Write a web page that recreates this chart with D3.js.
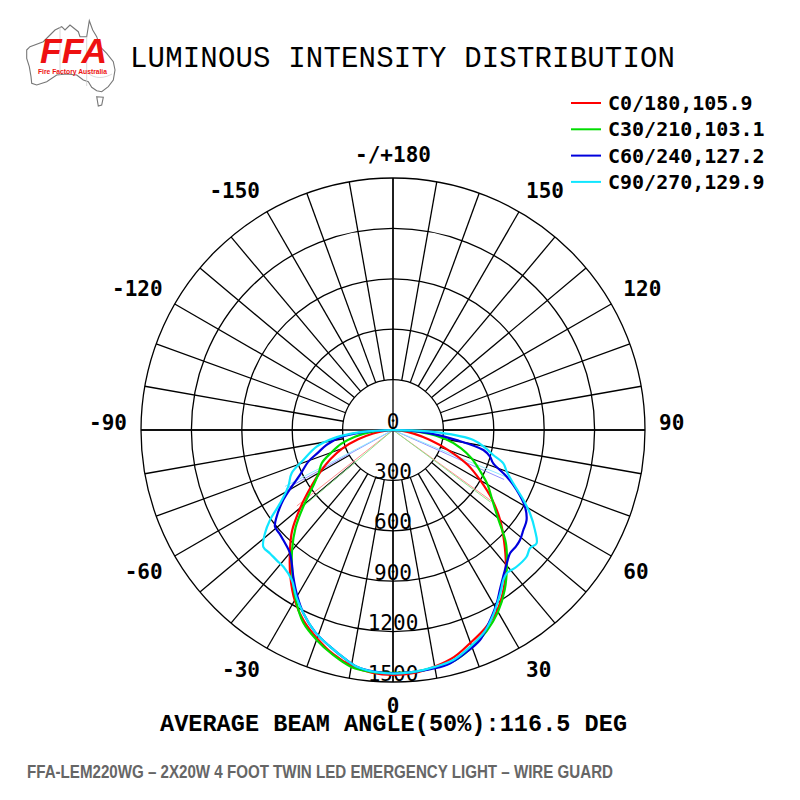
<!DOCTYPE html>
<html>
<head>
<meta charset="utf-8">
<script src="https://cdn.jsdelivr.net/npm/d3@7"></script>
<style>
  body { margin: 0; background: #fff; }
</style>
</head>
<body>
<svg id="chart" width="800" height="800"></svg>
<script>
// C-plane names shown in the legend
const planeNames = ['C0/180,105.9', 'C30/210,103.1', 'C60/240,127.2', 'C90/270,129.9'];
const planeColors = ['#ff0000', '#00dd00', '#0000dd', '#10e6ff'];
const beamColors = ['#ff8f8f', '#8fe68f', '#8f8fff', '#8fe8ff'];

// [gamma, cd] — negative gamma is the opposite half plane (C180, C210 ...)
const c0 = [[-90,0],[-85,45],[-80,120],[-75,215],[-70,320],[-65,410],[-60,500],[-55,600],[-50,720],[-45,850],[-40,955],[-35,1065],[-30,1170],[-25,1255],[-20,1320],[-15,1380],[-10,1425],[-5,1450],[0,1458],
  [5,1452],[10,1430],[15,1400],[20,1348],[25,1300],[30,1240],[35,1150],[40,1045],[45,935],[50,832],[55,720],[60,600],[65,490],[70,350],[75,225],[80,125],[85,50],[90,0]];
const c30 = [[-90,0],[-85,130],[-80,230],[-75,320],[-70,390],[-65,468],[-60,510],[-55,580],[-50,690],[-45,820],[-40,935],[-35,1045],[-30,1160],[-25,1265],[-20,1330],[-15,1385],[-10,1432],[-5,1445],[0,1445],
  [5,1445],[10,1435],[15,1420],[20,1375],[25,1320],[30,1250],[35,1160],[40,1055],[45,950],[50,815],[55,720],[60,650],[65,570],[70,500],[75,420],[80,320],[85,180],[90,0]];
const c60 = [[-90,0],[-86,180],[-82,320],[-77.3,405],[-73,470],[-69.5,538],[-64.2,615],[-60.8,691],[-57.5,774],[-53.3,864],[-50.7,908],[-47.5,915],[-44.9,925],[-42,940],[-39.9,956],[-37,1000],[-34.2,1056],[-30,1140],[-26,1215],[-21,1290],[-16.2,1343],[-12,1390],[-8.7,1425],[-4,1443],[0,1448],
  [5,1445],[10,1440],[13.7,1430],[18,1395],[22.5,1353],[26,1290],[30.9,1202],[34,1140],[36.9,1092],[40.5,1043],[43.5,1012],[46.5,1008],[49.1,1000],[52.5,978],[56,959],[59.8,909],[64.1,818],[67.7,732],[71.6,629],[74.6,599],[77.5,551],[81,384],[85,215],[88,90],[90,0]];
const c90 = [[-90,0],[-87,150],[-85,250],[-82,359],[-77.7,465],[-71.5,563],[-66.9,656],[-61.6,709],[-57,802],[-53.8,907],[-51.1,979],[-48,1039],[-44.9,1037],[-41.5,1040],[-38.7,1043],[-34,1077],[-30,1150],[-26,1215],[-21,1290],[-16.2,1343],[-12,1390],[-8.7,1425],[-4,1445],[0,1450],
  [5,1445],[10,1432],[14.7,1415],[19,1375],[24,1324],[28,1260],[31.8,1190],[34,1150],[36.3,1109],[38.4,1089],[42.1,1097],[46.5,1096],[49.2,1077],[51.7,1089],[54.8,1034],[58.7,954],[61.8,881],[66.1,783],[69.9,721],[73.2,686],[76,615],[79,560],[82.9,482],[86.7,280],[89,100],[90,0]];
const planes = [c0, c30, c60, c90];

// 50% beam half angles per plane [left, right]
const halfAngles = [[-51.7, 54.2], [-49.6, 53.5], [-61.2, 66.0], [-62.4, 67.5]];

const ringValues = [300, 600, 900, 1200, 1500];
const radialLabels = [0, 300, 600, 900, 1200, 1500];
const angleTicks = [0, 30, 60, 90, 120, 150, 180, -30, -60, -90, -120, -150];

const cx = 393, cy = 430;
const svg = d3.select('#chart');

// scales: gamma 0 points down, 90 to the right
const rad = d3.scaleLinear().domain([0, 1500]).range([0, 252]);
const ang = d3.scaleLinear().domain([0, 180]).range([Math.PI, 0]);
const px = (g, r) => cx + r * Math.sin(ang(g));
const py = (g, r) => cy - r * Math.cos(ang(g));

// ---- logo
const logo = svg.append('g');
const aus = [[26.7,50],[30,46.7],[43.3,41.7],[50,35],[55,30],[61.7,26.7],[65,30],[70,25],[78.3,31.7],[80,36.7],[86.7,36.7],[89.3,20.7],[92.7,30],[96.7,36.7],[100,46.7],[106.7,53.3],[113.3,61.7],[115,70],[113.3,80],[108.3,86.7],[101.7,91.7],[96.7,90.7],[91.7,87.3],[88.3,81.7],[83.3,80],[76.7,75],[66.7,74],[56.7,75],[46.7,81.7],[36.7,85],[31.7,83.3],[31,76.7],[29.3,66.7],[26.7,58.3]];
const tas = [[96.7,96.7],[103.3,97.3],[101.7,105],[98.3,106]];
const outline = d3.line().curve(d3.curveLinearClosed);
logo.append('path').attr('d', outline(aus)).attr('fill', '#fff').attr('stroke', '#777').attr('stroke-width', 1.1);
logo.append('path').attr('d', outline(tas)).attr('fill', '#fff').attr('stroke', '#777').attr('stroke-width', 1.1);
logo.append('path').attr('d', 'M86.7,36.7 L86.7,86 M86.7,72 C95,80 105,78 112,74 M60,27 L60,75')
  .attr('fill', 'none').attr('stroke', '#cfcfcf').attr('stroke-width', 0.8);
logo.append('text').attr('x', 40).attr('y', 63).text('FFA')
  .attr('font-family', 'Liberation Sans, Arial, sans-serif').attr('font-weight', 'bold').attr('font-style', 'italic')
  .attr('font-size', 35).attr('fill', '#ee1111').attr('textLength', 67).attr('lengthAdjust', 'spacingAndGlyphs');
logo.append('text').attr('x', 38).attr('y', 73.5).text('Fire Factory Australia')
  .attr('font-family', 'Liberation Sans, Arial, sans-serif').attr('font-weight', 'bold')
  .attr('font-size', 7).attr('fill', '#ee1111').attr('textLength', 69).attr('lengthAdjust', 'spacingAndGlyphs');

// ---- title
svg.append('text').attr('x', 130).attr('y', 67).text('LUMINOUS INTENSITY DISTRIBUTION')
  .attr('font-family', 'Liberation Mono, Courier New, monospace').attr('font-size', 29)
  .attr('textLength', 545).attr('lengthAdjust', 'spacing');

// ---- grid
const grid = svg.append('g').attr('stroke', '#000').attr('stroke-width', 1.3).attr('fill', 'none');
grid.selectAll('circle').data(ringValues).join('circle')
  .attr('cx', cx).attr('cy', cy).attr('r', d => rad(d));
const spokes = d3.range(-170, 181, 10);
grid.selectAll('line.spoke').data(spokes).join('line').attr('class', 'spoke')
  .attr('x1', d => px(d, rad(300))).attr('y1', d => py(d, rad(300)))
  .attr('x2', d => px(d, rad(1500))).attr('y2', d => py(d, rad(1500)));
grid.selectAll('line.axis').data([0, 90]).join('line').attr('class', 'axis')
  .attr('x1', d => px(d, rad(1500))).attr('y1', d => py(d, rad(1500)))
  .attr('x2', d => px(d - 180, rad(1500))).attr('y2', d => py(d - 180, rad(1500)));

// ---- radial labels, sitting just above each ring
svg.append('g').selectAll('text').data(radialLabels).join('text')
  .attr('x', cx).attr('y', d => cy + rad(d) - 1.5)
  .attr('text-anchor', 'middle')
  .attr('font-family', 'DejaVu Sans Mono, monospace').attr('font-size', 21)
  .text(d => d);

// ---- angle labels: the corner nearest the centre sits on r = 268
const capH = 15;
svg.append('g').selectAll('text').data(angleTicks).join('text')
  .attr('x', d => (d % 180 === 0) ? cx : px(d, 266))
  .attr('y', d => {
    const y = py(d, 268);
    return (y > cy + 1) ? y + capH : y;
  })
  .attr('text-anchor', d => (d % 180 === 0) ? 'middle' : (d > 0 ? 'start' : 'end'))
  .attr('font-family', 'DejaVu Sans Mono, monospace').attr('font-weight', 'bold').attr('font-size', 21)
  .text(d => d === 180 ? '-/+180' : d);

// ---- beam angle lines (to 50% of max)
const plot = svg.append('g').attr('transform', `translate(${cx},${cy})`);
planes.forEach((p, i) => {
  const half = d3.max(p, d => d[1]) / 2;
  plot.append('g').selectAll('line').data(halfAngles[i]).join('line')
    .attr('x1', 0).attr('y1', 0)
    .attr('x2', d => rad(half) * Math.sin(ang(d)))
    .attr('y2', d => -rad(half) * Math.cos(ang(d)))
    .attr('stroke', beamColors[i]).attr('stroke-width', 1);
});

// ---- curves
const curve = d3.lineRadial()
  .angle(d => ang(d[0]))
  .radius(d => rad(d[1]))
  .curve(d3.curveCatmullRom);
plot.selectAll('path.curve').data(planes).join('path').attr('class', 'curve')
  .attr('d', curve)
  .attr('fill', 'none')
  .attr('stroke', (d, i) => planeColors[i])
  .attr('stroke-width', 2.2)
  .attr('stroke-linejoin', 'round');

// ---- legend
const legend = svg.append('g').selectAll('g').data(planeNames).join('g')
  .attr('transform', (d, i) => `translate(571,${103 + i * 26.3})`);
legend.append('line').attr('x1', 0).attr('x2', 30).attr('y1', 0).attr('y2', 0)
  .attr('stroke', (d, i) => planeColors[i]).attr('stroke-width', 2);
legend.append('text').attr('x', 37).attr('y', 7)
  .attr('font-family', 'DejaVu Sans Mono, monospace').attr('font-weight', 'bold').attr('font-size', 20)
  .text(d => d);

// ---- footer
svg.append('text').attr('x', 160).attr('y', 731).text('AVERAGE BEAM ANGLE(50%):116.5 DEG')
  .attr('font-family', 'Liberation Mono, Courier New, monospace').attr('font-weight', 'bold').attr('font-size', 23.5)
  .attr('textLength', 467).attr('lengthAdjust', 'spacing');
svg.append('text').attr('x', 27).attr('y', 778).text('FFA-LEM220WG – 2X20W 4 FOOT TWIN LED EMERGENCY LIGHT – WIRE GUARD')
  .attr('font-family', 'Liberation Sans Narrow, Arial Narrow, Liberation Sans, sans-serif').attr('font-weight', 'bold').attr('font-size', 19)
  .attr('fill', '#666').attr('textLength', 586).attr('lengthAdjust', 'spacingAndGlyphs');
</script>
</body>
</html>
